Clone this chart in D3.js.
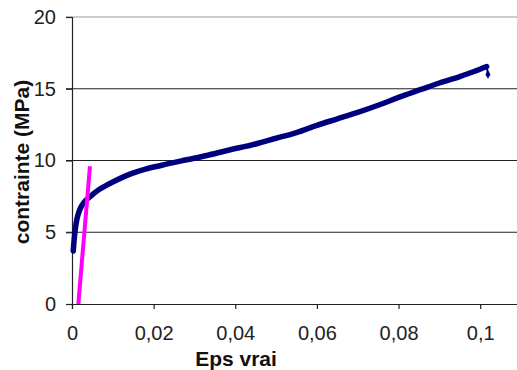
<!DOCTYPE html>
<html><head><meta charset="utf-8">
<script src="https://cdn.jsdelivr.net/npm/d3@7"></script>
<style>body{margin:0;background:#fff}svg{display:block}</style>
</head><body>
<svg id="c" width="517" height="370"></svg>
<script>
const epsValues = [0.0003,0.0005,0.0008,0.0012,0.0018,0.0025,0.0035,0.0045,0.006,0.008,0.010,0.0142,0.018,0.022,0.0281,0.033,0.038,0.045,0.050,0.055,0.060,0.065,0.070,0.0755,0.080,0.0855,0.090,0.095,0.0985,0.1016];
const stressValues = [3.7,4.4,5.2,5.9,6.5,6.9,7.25,7.5,7.85,8.2,8.5,9.05,9.4,9.67,10.05,10.35,10.7,11.15,11.55,11.95,12.45,12.9,13.35,13.9,14.4,14.95,15.4,15.85,16.2,16.55];
const lastPoint = {eps:0.1019, stress:16.0};
const elasticEps = [0.00155, 0.0044];
const elasticStress = [0, 9.6];
const xTicks = [0,0.02,0.04,0.06,0.08,0.1];
const yTicks = [0,5,10,15,20];

const svg = d3.select("#c");
const x = d3.scaleLinear().domain([0,0.11]).range([72, 521]);
const y = d3.scaleLinear().domain([0,20]).range([304, 17]);
const font = "'Liberation Sans', Arial, sans-serif";
const fmt = d => d3.format("")(d).replace(".", ",");

// gridlines
svg.append("g").selectAll("line").data(yTicks.filter(d=>d>0)).join("line")
  .attr("x1",66).attr("x2",517).attr("y1",d=>y(d)).attr("y2",d=>y(d))
  .attr("stroke",d=>d===20?"#999":"#222").attr("stroke-width",1.2);

// y axis
const yAxis = svg.append("g").attr("transform","translate(72,0)")
  .call(d3.axisLeft(y).tickValues(yTicks).tickSize(6).tickPadding(10).tickFormat(d=>d));
yAxis.select(".domain").attr("stroke","#222").attr("stroke-width",1.2);
yAxis.selectAll(".tick line").attr("stroke","#222").attr("stroke-width",1.2);
yAxis.selectAll("text").attr("font-family",font).attr("font-size",20).attr("fill","#222");

// x axis
const xAxis = svg.append("g").attr("transform","translate(0,304)")
  .call(d3.axisBottom(x).tickValues(xTicks).tickSize(5).tickPadding(17).tickFormat(fmt));
xAxis.select(".domain").attr("stroke","#222").attr("stroke-width",1.2);
xAxis.selectAll(".tick line").attr("stroke","#222").attr("stroke-width",1.2);
xAxis.selectAll("text").attr("font-family",font).attr("font-size",20).attr("fill","#222");

// data curve
const pts = epsValues.map((e,i)=>[e, stressValues[i]]);
svg.append("path").datum(pts)
  .attr("d", d3.line().x(d=>x(d[0])).y(d=>y(d[1])).curve(d3.curveMonotoneX))
  .attr("fill","none").attr("stroke","#00007f").attr("stroke-width",5.5).attr("stroke-linecap","round");
svg.append("path").datum([pts[pts.length-1],[lastPoint.eps,lastPoint.stress]])
  .attr("d", d3.line().x(d=>x(d[0])).y(d=>y(d[1])))
  .attr("fill","none").attr("stroke","#00007f").attr("stroke-width",2);
svg.append("path")
  .attr("d", d3.symbol().type(d3.symbolDiamond).size(22)())
  .attr("transform",`translate(${x(lastPoint.eps)},${y(lastPoint.stress)})`)
  .attr("fill","#00007f");

// elastic line
svg.append("line")
  .attr("x1",x(elasticEps[0])).attr("y1",y(elasticStress[0]))
  .attr("x2",x(elasticEps[1])).attr("y2",y(elasticStress[1]))
  .attr("stroke","#ff00ff").attr("stroke-width",4);

// titles
svg.append("text").attr("x",236).attr("y",366).attr("text-anchor","middle")
  .attr("font-family",font).attr("font-size",21).attr("font-weight","bold").attr("fill","#111")
  .text("Eps vrai");
svg.append("text").attr("transform","translate(29,162) rotate(-90)").attr("text-anchor","middle")
  .attr("font-family",font).attr("font-size",21).attr("font-weight","bold").attr("fill","#111")
  .text("contrainte (MPa)");
</script>
</body></html>
